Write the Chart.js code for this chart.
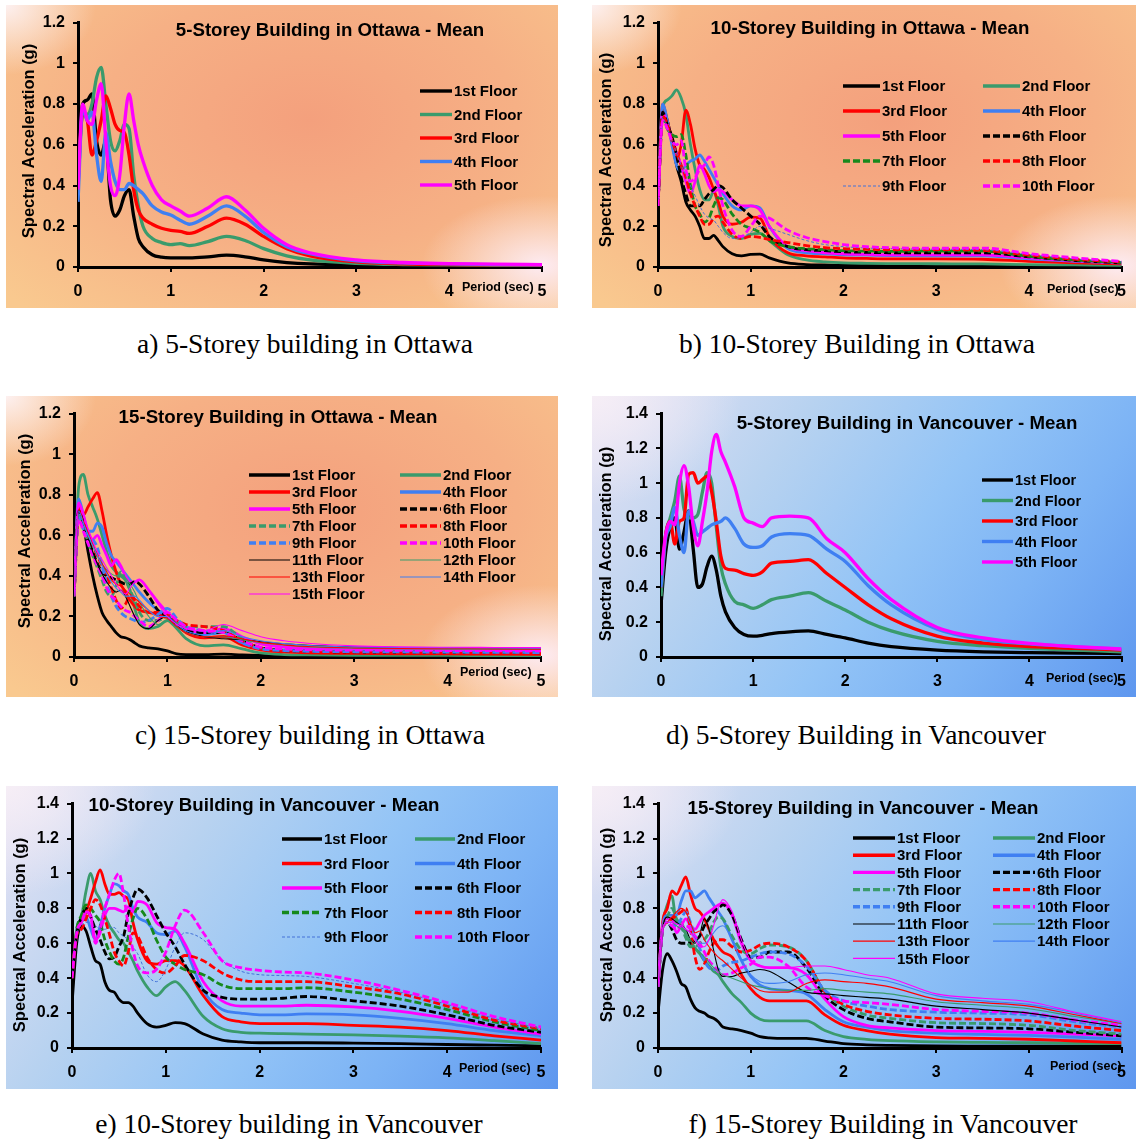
<!DOCTYPE html>
<html>
<head>
<meta charset="utf-8">
<script src="https://cdn.jsdelivr.net/npm/chart.js@4.4.1/dist/chart.umd.min.js"></script>
<style>
body { margin: 0; background: #fff; width: 1136px; height: 1141px; position: relative; overflow: hidden; }
.panel { position: absolute; }
.panel canvas { display: block; }
.ott {
  background:
    radial-gradient(ellipse 90px 70px at 0 0, #fdf0f0 0%, rgba(253,240,240,0) 100%),
    radial-gradient(ellipse 120px 70px at 97% 86%, #fdebf2 0%, rgba(253,235,242,0) 100%),
    radial-gradient(ellipse 75% 85% at 55% 38%, #f4a07d 0%, #f6b085 50%, #f9c98f 100%);
}
.van {
  background:
    radial-gradient(ellipse 150px 110px at 0 0, #f6eef6 0%, rgba(246,238,246,0) 100%),
    linear-gradient(125deg, #e6e2f3 0%, #b7d2f0 30%, #93c4f6 55%, #7cb3f5 75%, #5e97ef 100%);
}
.cap {
  position: absolute; white-space: nowrap; transform: translateX(-50%);
  font-family: "Liberation Serif", "Times New Roman", serif; font-size: 27.5px; line-height: 32px; color: #000;
}
</style>
</head>
<body>
<div class="panel ott" style="left:6px;top:5px;width:552px;height:303px"><canvas id="cA" width="552" height="303"></canvas></div>
<div class="panel ott" style="left:592px;top:5px;width:544px;height:303px"><canvas id="cB" width="544" height="303"></canvas></div>
<div class="panel ott" style="left:6px;top:396px;width:552px;height:301px"><canvas id="cC" width="552" height="301"></canvas></div>
<div class="panel van" style="left:592px;top:396px;width:544px;height:301px"><canvas id="cD" width="544" height="301"></canvas></div>
<div class="panel van" style="left:6px;top:786px;width:552px;height:303px"><canvas id="cE" width="552" height="303"></canvas></div>
<div class="panel van" style="left:592px;top:786px;width:544px;height:303px"><canvas id="cF" width="544" height="303"></canvas></div>

<div class="cap" style="left:305px;top:328px">a) 5-Storey building in Ottawa</div>
<div class="cap" style="left:857px;top:328px">b) 10-Storey Building in Ottawa</div>
<div class="cap" style="left:310px;top:719px">c) 15-Storey building in Ottawa</div>
<div class="cap" style="left:856px;top:719px">d) 5-Storey Building in Vancouver</div>
<div class="cap" style="left:289px;top:1108px">e) 10-Storey building in Vancouver</div>
<div class="cap" style="left:883px;top:1108px">f) 15-Storey Building in Vancouver</div>

<script>
// Period (sec) sample points shared by every curve
var periods = [0, 0.05, 0.1, 0.15, 0.2, 0.25, 0.3, 0.35, 0.4, 0.45, 0.5, 0.55, 0.6, 0.65, 0.7, 0.8, 0.9, 1.0, 1.1, 1.2, 1.4, 1.6, 1.8, 2.0, 2.25, 2.5, 3.0, 3.5, 4.0, 4.5, 5.0];

var floorLabels = ['1st Floor', '2nd Floor', '3rd Floor', '4th Floor', '5th Floor', '6th Floor', '7th Floor', '8th Floor',
  '9th Floor', '10th Floor', '11th Floor', '12th Floor', '13th Floor', '14th Floor', '15th Floor'];

var xTicks = [0, 1, 2, 3, 4, 5];

// a) 5-storey, Ottawa - one row per floor
var ottawa5 = [
  [0.5, 0.8, 0.82, 0.85, 0.62, 0.55, 0.62, 0.33, 0.25, 0.28, 0.35, 0.38, 0.25, 0.14, 0.1, 0.06, 0.048, 0.045, 0.045, 0.045, 0.05, 0.058, 0.05, 0.035, 0.022, 0.015, 0.01, 0.008, 0.007, 0.006, 0.005],
  [0.4, 0.75, 0.75, 0.8, 0.93, 0.98, 0.8, 0.62, 0.57, 0.62, 0.7, 0.68, 0.45, 0.3, 0.2, 0.14, 0.12, 0.11, 0.115, 0.105, 0.125, 0.15, 0.13, 0.09, 0.055, 0.035, 0.018, 0.012, 0.01, 0.008, 0.007],
  [0.45, 0.75, 0.72, 0.55, 0.62, 0.72, 0.84, 0.78, 0.7, 0.67, 0.66, 0.55, 0.38, 0.28, 0.24, 0.21, 0.19, 0.18, 0.175, 0.165, 0.2, 0.24, 0.21, 0.15, 0.09, 0.055, 0.025, 0.016, 0.012, 0.01, 0.008],
  [0.32, 0.78, 0.72, 0.76, 0.55, 0.42, 0.66, 0.52, 0.42, 0.38, 0.38, 0.41, 0.4, 0.38, 0.36, 0.3, 0.27, 0.255, 0.23, 0.21, 0.25, 0.3, 0.25, 0.17, 0.1, 0.065, 0.03, 0.02, 0.015, 0.012, 0.01],
  [0.38, 0.8, 0.72, 0.7, 0.82, 0.9, 0.62, 0.4, 0.35, 0.45, 0.7, 0.85, 0.72, 0.6, 0.52, 0.4, 0.33, 0.3, 0.275, 0.25, 0.29, 0.345, 0.28, 0.19, 0.11, 0.07, 0.035, 0.022, 0.017, 0.014, 0.012]
];

// b) 10-storey, Ottawa
var ottawa10 = [
  [0.3, 0.78, 0.72, 0.62, 0.5, 0.42, 0.32, 0.28, 0.25, 0.2, 0.14, 0.14, 0.155, 0.13, 0.1, 0.065, 0.055, 0.062, 0.063, 0.045, 0.02, 0.012, 0.01, 0.008, 0.008, 0.008, 0.007, 0.007, 0.006, 0.005, 0.005],
  [0.3, 0.78, 0.82, 0.84, 0.87, 0.83, 0.75, 0.6, 0.48, 0.38, 0.33, 0.33, 0.37, 0.3, 0.2, 0.15, 0.14, 0.16, 0.165, 0.13, 0.06, 0.035, 0.025, 0.02, 0.018, 0.017, 0.016, 0.015, 0.012, 0.01, 0.008],
  [0.3, 0.8, 0.72, 0.62, 0.53, 0.6, 0.77, 0.7, 0.58, 0.5, 0.48, 0.44, 0.38, 0.32, 0.25, 0.21, 0.22, 0.245, 0.24, 0.15, 0.07, 0.055, 0.05, 0.045, 0.042, 0.04, 0.04, 0.038, 0.028, 0.02, 0.015],
  [0.3, 0.8, 0.72, 0.6, 0.5, 0.47, 0.5, 0.52, 0.53, 0.55, 0.52, 0.48, 0.44, 0.4, 0.36, 0.3, 0.28, 0.3, 0.29, 0.2, 0.09, 0.07, 0.065, 0.06, 0.058, 0.056, 0.055, 0.055, 0.04, 0.028, 0.02],
  [0.3, 0.76, 0.7, 0.63, 0.56, 0.5, 0.42, 0.36, 0.42, 0.5, 0.46, 0.4, 0.37, 0.38, 0.37, 0.33, 0.3, 0.3, 0.28, 0.2, 0.1, 0.08, 0.07, 0.065, 0.062, 0.06, 0.06, 0.06, 0.045, 0.03, 0.02],
  [0.3, 0.76, 0.7, 0.64, 0.55, 0.44, 0.36, 0.3, 0.3, 0.3, 0.33, 0.36, 0.38, 0.4, 0.39, 0.33, 0.29, 0.25, 0.21, 0.15, 0.1, 0.085, 0.08, 0.075, 0.072, 0.07, 0.07, 0.07, 0.05, 0.032, 0.02],
  [0.3, 0.74, 0.68, 0.65, 0.64, 0.65, 0.55, 0.4, 0.3, 0.26, 0.22, 0.24, 0.3, 0.34, 0.33, 0.26, 0.21, 0.19, 0.17, 0.13, 0.1, 0.09, 0.085, 0.08, 0.078, 0.077, 0.078, 0.078, 0.052, 0.034, 0.022],
  [0.3, 0.74, 0.7, 0.62, 0.56, 0.5, 0.44, 0.36, 0.3, 0.25, 0.21, 0.21, 0.24, 0.25, 0.22, 0.16, 0.14, 0.15, 0.145, 0.135, 0.12, 0.105, 0.095, 0.09, 0.087, 0.085, 0.085, 0.082, 0.058, 0.038, 0.025],
  [0.3, 0.73, 0.68, 0.62, 0.56, 0.5, 0.45, 0.4, 0.35, 0.3, 0.26, 0.24, 0.23, 0.2, 0.17, 0.14, 0.145, 0.17, 0.2, 0.19, 0.16, 0.13, 0.11, 0.1, 0.093, 0.09, 0.087, 0.085, 0.062, 0.04, 0.025],
  [0.3, 0.72, 0.68, 0.62, 0.6, 0.62, 0.48, 0.42, 0.44, 0.48, 0.5, 0.54, 0.5, 0.4, 0.3, 0.18, 0.15, 0.2, 0.25, 0.24, 0.18, 0.145, 0.125, 0.11, 0.1, 0.095, 0.092, 0.093, 0.066, 0.045, 0.028]
];

// c) 15-storey, Ottawa
var ottawa15 = [
  [0.3, 0.72, 0.65, 0.52, 0.4, 0.3, 0.22, 0.18, 0.15, 0.12, 0.1, 0.095, 0.085, 0.07, 0.055, 0.045, 0.04, 0.03, 0.015, 0.012, 0.012, 0.014, 0.01, 0.008, 0.007, 0.006, 0.006, 0.006, 0.006, 0.005, 0.005],
  [0.3, 0.84, 0.9, 0.8, 0.74, 0.68, 0.6, 0.52, 0.45, 0.42, 0.4, 0.38, 0.33, 0.24, 0.17, 0.14, 0.15, 0.18, 0.14, 0.09, 0.055, 0.06, 0.04, 0.02, 0.012, 0.01, 0.008, 0.008, 0.008, 0.007, 0.007],
  [0.3, 0.74, 0.7, 0.74, 0.78, 0.81, 0.72, 0.6, 0.5, 0.42, 0.36, 0.32, 0.28, 0.25, 0.23, 0.22, 0.21, 0.2, 0.16, 0.12, 0.095, 0.1, 0.06, 0.035, 0.025, 0.02, 0.018, 0.016, 0.015, 0.014, 0.013],
  [0.3, 0.78, 0.7, 0.62, 0.62, 0.66, 0.64, 0.56, 0.5, 0.47, 0.44, 0.41, 0.38, 0.35, 0.32, 0.27, 0.23, 0.2, 0.16, 0.13, 0.11, 0.12, 0.07, 0.045, 0.035, 0.03, 0.027, 0.025, 0.024, 0.023, 0.022],
  [0.3, 0.76, 0.7, 0.62, 0.58, 0.6, 0.55, 0.5, 0.45, 0.48, 0.45, 0.4, 0.37, 0.37, 0.38, 0.33, 0.27, 0.22, 0.18, 0.14, 0.12, 0.14, 0.1, 0.065, 0.05, 0.042, 0.037, 0.035, 0.034, 0.033, 0.032],
  [0.3, 0.72, 0.66, 0.58, 0.52, 0.46, 0.42, 0.4, 0.39, 0.38, 0.37, 0.36, 0.36, 0.37, 0.36, 0.3, 0.23, 0.2, 0.16, 0.13, 0.12, 0.12, 0.08, 0.045, 0.032, 0.028, 0.025, 0.024, 0.023, 0.022, 0.021],
  [0.3, 0.7, 0.63, 0.57, 0.5, 0.44, 0.38, 0.32, 0.3, 0.35, 0.42, 0.38, 0.33, 0.28, 0.22, 0.18, 0.18, 0.2, 0.17, 0.15, 0.15, 0.15, 0.09, 0.045, 0.035, 0.03, 0.028, 0.026, 0.025, 0.024, 0.023],
  [0.3, 0.7, 0.65, 0.6, 0.55, 0.5, 0.45, 0.4, 0.34, 0.28, 0.24, 0.26, 0.3, 0.28, 0.25, 0.22, 0.22, 0.21, 0.18, 0.16, 0.15, 0.13, 0.08, 0.045, 0.032, 0.027, 0.024, 0.022, 0.021, 0.02, 0.019],
  [0.3, 0.7, 0.63, 0.6, 0.58, 0.54, 0.45, 0.36, 0.3, 0.25, 0.22, 0.2, 0.19, 0.18, 0.17, 0.18, 0.21, 0.24, 0.19, 0.15, 0.13, 0.12, 0.07, 0.04, 0.032, 0.028, 0.026, 0.025, 0.024, 0.023, 0.022],
  [0.3, 0.68, 0.62, 0.56, 0.5, 0.45, 0.4, 0.34, 0.3, 0.28, 0.25, 0.23, 0.22, 0.2, 0.18, 0.15, 0.18, 0.22, 0.18, 0.15, 0.13, 0.12, 0.08, 0.048, 0.04, 0.036, 0.034, 0.033, 0.032, 0.031, 0.03],
  [0.3, 0.72, 0.66, 0.6, 0.52, 0.46, 0.41, 0.37, 0.34, 0.32, 0.33, 0.3, 0.25, 0.2, 0.16, 0.14, 0.18, 0.2, 0.16, 0.13, 0.1, 0.09, 0.085, 0.075, 0.065, 0.058, 0.05, 0.047, 0.045, 0.044, 0.043],
  [0.3, 0.7, 0.66, 0.6, 0.55, 0.5, 0.46, 0.43, 0.41, 0.4, 0.41, 0.39, 0.36, 0.32, 0.27, 0.2, 0.16, 0.18, 0.15, 0.12, 0.1, 0.1, 0.085, 0.07, 0.058, 0.05, 0.043, 0.04, 0.039, 0.038, 0.037],
  [0.3, 0.73, 0.67, 0.62, 0.56, 0.5, 0.46, 0.42, 0.38, 0.36, 0.35, 0.33, 0.31, 0.29, 0.27, 0.23, 0.2, 0.19, 0.15, 0.12, 0.1, 0.105, 0.09, 0.072, 0.06, 0.052, 0.045, 0.042, 0.041, 0.04, 0.039],
  [0.3, 0.72, 0.66, 0.6, 0.55, 0.5, 0.45, 0.41, 0.37, 0.34, 0.32, 0.3, 0.3, 0.3, 0.28, 0.23, 0.2, 0.2, 0.16, 0.13, 0.11, 0.13, 0.1, 0.08, 0.066, 0.057, 0.05, 0.047, 0.046, 0.045, 0.044],
  [0.3, 0.75, 0.7, 0.63, 0.57, 0.52, 0.48, 0.44, 0.4, 0.36, 0.33, 0.31, 0.34, 0.37, 0.38, 0.33, 0.26, 0.2, 0.16, 0.14, 0.13, 0.16, 0.13, 0.1, 0.08, 0.068, 0.055, 0.05, 0.048, 0.047, 0.046]
];

// d) 5-storey, Vancouver
var vancouver5 = [
  [0.3, 0.6, 0.75, 0.8, 0.62, 0.72, 0.84, 0.62, 0.4, 0.42, 0.52, 0.58, 0.5, 0.35, 0.26, 0.17, 0.13, 0.12, 0.125, 0.135, 0.145, 0.15, 0.13, 0.11, 0.08, 0.06, 0.04, 0.03, 0.025, 0.022, 0.02],
  [0.35, 0.7, 0.8, 0.9, 1.04, 0.85, 0.8, 0.8, 0.82, 0.95, 1.06, 1.0, 0.75, 0.52, 0.42, 0.32, 0.3, 0.28, 0.3, 0.33, 0.35, 0.37, 0.32, 0.27, 0.2, 0.15, 0.09, 0.065, 0.05, 0.04, 0.03],
  [0.4, 0.7, 0.78, 0.65, 0.78, 0.8, 1.05, 1.06, 1.0, 1.02, 1.04, 0.95, 0.78, 0.58, 0.51, 0.5, 0.48, 0.47, 0.49, 0.54, 0.55, 0.56, 0.48, 0.4, 0.3, 0.22, 0.12, 0.08, 0.06, 0.05, 0.04],
  [0.4, 0.68, 0.75, 0.86, 0.7, 0.6, 0.84, 0.78, 0.7, 0.72, 0.74, 0.76, 0.77, 0.78, 0.8, 0.74, 0.65, 0.63, 0.64, 0.69, 0.71, 0.7, 0.62, 0.55, 0.41, 0.3, 0.16, 0.1, 0.075, 0.058, 0.045],
  [0.47, 0.7, 0.78, 0.76, 1.0, 1.1, 0.98, 0.75, 0.64, 0.78, 0.95, 1.18, 1.28, 1.18, 1.12, 0.98, 0.8, 0.77, 0.75, 0.8, 0.81, 0.8, 0.68, 0.6, 0.45, 0.33, 0.17, 0.11, 0.078, 0.06, 0.046]
];

// e) 10-storey, Vancouver
var vancouver10 = [
  [0.25, 0.6, 0.7, 0.67, 0.58, 0.5, 0.48, 0.38, 0.33, 0.32, 0.28, 0.26, 0.26, 0.24, 0.2, 0.14, 0.12, 0.13, 0.145, 0.14, 0.08, 0.045, 0.035, 0.03, 0.03, 0.03, 0.028, 0.025, 0.02, 0.016, 0.012],
  [0.4, 0.68, 0.75, 0.9, 1.0, 0.9, 0.85, 0.76, 0.7, 0.66, 0.62, 0.6, 0.55, 0.5, 0.44, 0.35, 0.3, 0.35, 0.38, 0.33, 0.18, 0.11, 0.09, 0.085, 0.082, 0.08, 0.075, 0.068, 0.058, 0.042, 0.025],
  [0.4, 0.65, 0.72, 0.78, 0.86, 0.95, 1.02, 0.94, 0.88, 0.88, 0.89, 0.87, 0.85, 0.72, 0.62, 0.5, 0.48, 0.5, 0.5, 0.47, 0.3, 0.18, 0.15, 0.14, 0.14, 0.14, 0.13, 0.12, 0.1, 0.07, 0.045],
  [0.4, 0.65, 0.72, 0.75, 0.68, 0.62, 0.7, 0.8, 0.88, 0.94, 0.93, 0.9, 0.88, 0.8, 0.75, 0.72, 0.66, 0.65, 0.67, 0.58, 0.33, 0.22, 0.2, 0.19, 0.19, 0.195, 0.19, 0.17, 0.14, 0.1, 0.07],
  [0.4, 0.66, 0.72, 0.78, 0.76, 0.62, 0.66, 0.76, 0.8, 0.8, 0.79, 0.78, 0.81, 0.78, 0.84, 0.82, 0.72, 0.69, 0.68, 0.6, 0.38, 0.27, 0.24, 0.24, 0.24, 0.245, 0.235, 0.21, 0.17, 0.12, 0.08],
  [0.38, 0.65, 0.75, 0.8, 0.75, 0.68, 0.62, 0.55, 0.51, 0.52, 0.58, 0.64, 0.77, 0.86, 0.91, 0.86, 0.76, 0.66, 0.58, 0.48, 0.33, 0.29, 0.28, 0.28, 0.285, 0.295, 0.27, 0.24, 0.19, 0.13, 0.09],
  [0.4, 0.68, 0.76, 0.82, 0.8, 0.76, 0.72, 0.62, 0.55, 0.5, 0.48, 0.52, 0.64, 0.74, 0.8, 0.74, 0.62, 0.52, 0.48, 0.45, 0.42, 0.36, 0.34, 0.34, 0.34, 0.345, 0.32, 0.28, 0.22, 0.15, 0.1],
  [0.4, 0.65, 0.68, 0.74, 0.8, 0.85, 0.82, 0.74, 0.65, 0.55, 0.5, 0.47, 0.55, 0.66, 0.64, 0.52, 0.45, 0.43, 0.47, 0.53, 0.5, 0.43, 0.39, 0.38, 0.38, 0.38, 0.35, 0.31, 0.24, 0.16, 0.11],
  [0.4, 0.66, 0.7, 0.72, 0.71, 0.7, 0.68, 0.68, 0.69, 0.69, 0.66, 0.64, 0.62, 0.58, 0.54, 0.42, 0.38, 0.45, 0.58, 0.66, 0.62, 0.5, 0.44, 0.42, 0.415, 0.41, 0.37, 0.32, 0.25, 0.17, 0.11],
  [0.4, 0.66, 0.72, 0.78, 0.75, 0.6, 0.68, 0.8, 0.88, 0.96, 1.0, 0.88, 0.7, 0.56, 0.47, 0.43, 0.45, 0.55, 0.7, 0.79, 0.66, 0.5, 0.46, 0.445, 0.435, 0.43, 0.39, 0.33, 0.26, 0.18, 0.12]
];

// f) 15-storey, Vancouver
var vancouver15 = [
  [0.2, 0.45, 0.54, 0.5, 0.44, 0.37, 0.35, 0.28, 0.23, 0.21, 0.2, 0.18, 0.17, 0.15, 0.12, 0.11, 0.1, 0.085, 0.065, 0.058, 0.055, 0.055, 0.04, 0.025, 0.018, 0.015, 0.012, 0.011, 0.01, 0.01, 0.01],
  [0.35, 0.7, 0.82, 0.87, 0.72, 0.72, 0.65, 0.6, 0.57, 0.54, 0.5, 0.47, 0.44, 0.42, 0.38, 0.31, 0.26, 0.2, 0.165, 0.155, 0.155, 0.155, 0.1, 0.065, 0.05, 0.042, 0.035, 0.032, 0.03, 0.027, 0.025],
  [0.35, 0.72, 0.8, 0.9, 0.88, 0.93, 0.98, 0.88, 0.8, 0.78, 0.74, 0.68, 0.62, 0.58, 0.55, 0.52, 0.42, 0.34, 0.29, 0.27, 0.27, 0.27, 0.19, 0.13, 0.1, 0.08, 0.06, 0.055, 0.05, 0.04, 0.03],
  [0.35, 0.7, 0.76, 0.76, 0.76, 0.84, 0.9, 0.9, 0.86, 0.88, 0.9, 0.86, 0.82, 0.78, 0.74, 0.62, 0.5, 0.41, 0.36, 0.34, 0.33, 0.31, 0.22, 0.15, 0.12, 0.1, 0.085, 0.078, 0.072, 0.062, 0.05],
  [0.35, 0.7, 0.74, 0.74, 0.66, 0.7, 0.74, 0.7, 0.68, 0.72, 0.76, 0.78, 0.8, 0.82, 0.83, 0.76, 0.6, 0.5, 0.47, 0.46, 0.46, 0.42, 0.28, 0.18, 0.13, 0.115, 0.1, 0.095, 0.09, 0.08, 0.07],
  [0.35, 0.68, 0.72, 0.68, 0.62, 0.6, 0.6, 0.6, 0.62, 0.64, 0.7, 0.74, 0.78, 0.8, 0.82, 0.76, 0.62, 0.52, 0.52, 0.55, 0.55, 0.46, 0.3, 0.22, 0.17, 0.15, 0.12, 0.115, 0.11, 0.09, 0.07],
  [0.35, 0.68, 0.75, 0.8, 0.74, 0.7, 0.63, 0.58, 0.58, 0.6, 0.62, 0.66, 0.72, 0.75, 0.74, 0.64, 0.56, 0.54, 0.57, 0.59, 0.58, 0.5, 0.32, 0.24, 0.19, 0.17, 0.145, 0.14, 0.13, 0.1, 0.08],
  [0.35, 0.68, 0.72, 0.74, 0.76, 0.78, 0.8, 0.68, 0.52, 0.45, 0.48, 0.55, 0.6, 0.62, 0.62, 0.58, 0.55, 0.56, 0.59, 0.6, 0.58, 0.5, 0.32, 0.25, 0.21, 0.19, 0.17, 0.165, 0.155, 0.125, 0.1],
  [0.35, 0.68, 0.72, 0.7, 0.7, 0.74, 0.78, 0.72, 0.64, 0.57, 0.5, 0.46, 0.45, 0.45, 0.47, 0.49, 0.5, 0.52, 0.54, 0.55, 0.54, 0.47, 0.33, 0.27, 0.24, 0.22, 0.205, 0.2, 0.19, 0.15, 0.12],
  [0.35, 0.68, 0.72, 0.7, 0.68, 0.7, 0.7, 0.68, 0.64, 0.6, 0.55, 0.5, 0.47, 0.44, 0.42, 0.43, 0.46, 0.48, 0.52, 0.52, 0.47, 0.35, 0.3, 0.27, 0.26, 0.25, 0.22, 0.21, 0.2, 0.16, 0.13],
  [0.35, 0.68, 0.75, 0.74, 0.72, 0.7, 0.68, 0.62, 0.6, 0.65, 0.74, 0.68, 0.56, 0.45, 0.41, 0.41, 0.43, 0.44, 0.45, 0.44, 0.38, 0.32, 0.31, 0.3, 0.29, 0.28, 0.24, 0.22, 0.2, 0.16, 0.12],
  [0.35, 0.68, 0.72, 0.72, 0.7, 0.68, 0.65, 0.62, 0.58, 0.55, 0.52, 0.49, 0.46, 0.44, 0.42, 0.4, 0.38, 0.36, 0.35, 0.34, 0.33, 0.33, 0.34, 0.33, 0.32, 0.31, 0.265, 0.245, 0.225, 0.18, 0.14],
  [0.35, 0.68, 0.72, 0.75, 0.78, 0.8, 0.78, 0.72, 0.66, 0.67, 0.62, 0.58, 0.55, 0.52, 0.5, 0.45, 0.4, 0.36, 0.33, 0.32, 0.32, 0.37, 0.39, 0.38, 0.37, 0.35, 0.28, 0.26, 0.24, 0.19, 0.14],
  [0.35, 0.68, 0.72, 0.72, 0.71, 0.7, 0.68, 0.66, 0.63, 0.6, 0.6, 0.62, 0.66, 0.69, 0.7, 0.62, 0.5, 0.42, 0.38, 0.37, 0.38, 0.42, 0.43, 0.42, 0.4, 0.38, 0.3, 0.27, 0.25, 0.2, 0.145],
  [0.35, 0.68, 0.72, 0.72, 0.71, 0.7, 0.68, 0.66, 0.62, 0.58, 0.58, 0.62, 0.7, 0.8, 0.85, 0.78, 0.62, 0.5, 0.47, 0.46, 0.46, 0.47, 0.47, 0.45, 0.42, 0.4, 0.31, 0.285, 0.265, 0.205, 0.15]
];

// line styles per floor
var BLACK = '#000000', GREEN = '#3a9b6c', RED = '#ff0000', BLUE = '#3f7ff2', MAGENTA = '#ff00ff';
var DKGREEN = '#16891c', THINBLUE = '#4472d8';
var DASH = [7, 3], THINDASH = [3, 2];

function solid(c, w) { return { c: c, w: w, d: [] }; }
function dashed(c, w, d) { return { c: c, w: w, d: d || DASH }; }

var styles5 = [solid(BLACK, 3.3), solid(GREEN, 3.3), solid(RED, 3.3), solid(BLUE, 3.3), solid(MAGENTA, 3.3)];
var styles10 = [solid(BLACK, 2.8), solid(GREEN, 2.8), solid(RED, 2.8), solid(BLUE, 2.8), solid(MAGENTA, 2.8),
  dashed(BLACK, 2.8), dashed(DKGREEN, 2.8), dashed(RED, 2.8), dashed(THINBLUE, 1, THINDASH), dashed(MAGENTA, 2.8)];
var styles15 = [solid(BLACK, 2.8), solid(GREEN, 2.8), solid(RED, 2.8), solid(BLUE, 2.8), solid(MAGENTA, 2.8),
  dashed(BLACK, 2.8), dashed(GREEN, 2.8), dashed(RED, 2.8), dashed(BLUE, 2.8), dashed(MAGENTA, 2.8),
  solid(BLACK, 1.1), solid(GREEN, 1.1), solid(RED, 1.1), solid(BLUE, 1.1), solid(MAGENTA, 1.1)];

var FONT = '"Liberation Sans", Arial, sans-serif';

// panel geometry, in page pixels
var panels = [
  { id: 'cA', rows: ottawa5, st: styles5, title: '5-Storey Building in Ottawa - Mean',
    L: 6, T: 5, W: 552, H: 303, x0: 78, x5: 542, yTop: 15, yBot: 267, yMax: 1.2,
    tx: 330, ty: 31, cols: 1, lx: [420], ll: 32, ly: 91, dy: 23.5, lf: 15, px: 462, py: 288, yx: 29, yy: 141 },
  { id: 'cB', rows: ottawa10, st: styles10, title: '10-Storey Building in Ottawa - Mean',
    L: 592, T: 5, W: 544, H: 303, x0: 658, x5: 1126, yTop: 15, yBot: 267, yMax: 1.2,
    tx: 870, ty: 29, cols: 2, lx: [843, 983], ll: 37, ly: 86, dy: 25, lf: 15, px: 1047, py: 290, yx: 606, yy: 150 },
  { id: 'cC', rows: ottawa15, st: styles15, title: '15-Storey Building in Ottawa - Mean',
    L: 6, T: 396, W: 552, H: 301, x0: 74, x5: 541, yTop: 405, yBot: 657, yMax: 1.2,
    tx: 278, ty: 418, cols: 2, lx: [249, 400], ll: 41, ly: 475, dy: 17, lf: 15, px: 460, py: 673, yx: 25, yy: 531 },
  { id: 'cD', rows: vancouver5, st: styles5, title: '5-Storey Building in Vancouver - Mean',
    L: 592, T: 396, W: 544, H: 301, x0: 661, x5: 1130, yTop: 405, yBot: 657, yMax: 1.4,
    tx: 907, ty: 424, cols: 1, lx: [982], ll: 31, ly: 480, dy: 20.5, lf: 14.5, px: 1046, py: 679, yx: 606, yy: 544 },
  { id: 'cE', rows: vancouver10, st: styles10, title: '10-Storey Building in Vancouver - Mean',
    L: 6, T: 786, W: 552, H: 303, x0: 72, x5: 541, yTop: 796, yBot: 1048, yMax: 1.4,
    tx: 264, ty: 806, cols: 2, lx: [282, 415], ll: 40, ly: 839, dy: 24.5, lf: 15, px: 459, py: 1069, yx: 20, yy: 935 },
  { id: 'cF', rows: vancouver15, st: styles15, title: '15-Storey Building in Vancouver - Mean',
    L: 592, T: 786, W: 544, H: 303, x0: 658, x5: 1128, yTop: 796, yBot: 1048, yMax: 1.4,
    tx: 863, ty: 809, cols: 2, lx: [853, 993], ll: 42, ly: 838, dy: 17.2, lf: 15, px: 1050, py: 1067, yx: 607, yy: 925 }
];

// title, in-plot legend, "Period (sec)" and y title
function makeDecor(p) {
  return {
    id: 'panelDecor',
    afterDraw: function (chart) {
      var ctx = chart.ctx;
      ctx.save();
      ctx.fillStyle = '#000';
      ctx.textBaseline = 'middle';

      ctx.font = 'bold 18.7px ' + FONT;
      ctx.textAlign = 'center';
      ctx.fillText(p.title, p.tx - p.L, p.ty - p.T);

      ctx.font = 'bold ' + p.lf + 'px ' + FONT;
      ctx.textAlign = 'left';
      chart.data.datasets.forEach(function (ds, i) {
        var col = i % p.cols, row = Math.floor(i / p.cols);
        var x = p.lx[col] - p.L, y = p.ly + row * p.dy - p.T;
        ctx.strokeStyle = ds.borderColor;
        ctx.lineWidth = ds.borderWidth > 2 ? 3.4 : 1.2;
        ctx.setLineDash(ds.borderDash);
        ctx.beginPath();
        ctx.moveTo(x, y);
        ctx.lineTo(x + p.ll, y);
        ctx.stroke();
        ctx.setLineDash([]);
        ctx.fillText(ds.label, x + p.ll + 2, y + 1);
      });

      ctx.font = 'bold 12.5px ' + FONT;
      ctx.fillText('Period (sec)', p.px - p.L, p.py - p.T);

      ctx.font = 'bold 16.5px ' + FONT;
      ctx.textAlign = 'center';
      ctx.translate(p.yx - p.L, p.yy - p.T);
      ctx.rotate(-Math.PI / 2);
      ctx.fillText('Spectral Acceleration (g)', 0, 0);
      ctx.restore();
    }
  };
}

panels.forEach(function (p) {
  var datasets = p.rows.map(function (row, i) {
    return {
      label: floorLabels[i],
      data: periods.map(function (t, k) { return { x: t, y: row[k] }; }),
      borderColor: p.st[i].c,
      borderWidth: p.st[i].w,
      borderDash: p.st[i].d,
      order: p.rows.length - i, // later floors on top
      fill: false
    };
  });

  var axisGrid = { drawOnChartArea: false, color: '#000', lineWidth: 2, tickLength: 5 };
  var tickFont = { family: FONT, size: 16, weight: 'bold' };

  new Chart(document.getElementById(p.id), {
    type: 'line',
    data: { datasets: datasets },
    options: {
      responsive: false,
      animation: false,
      devicePixelRatio: 1,
      layout: { padding: { left: 0, top: p.yTop - p.T, right: p.L + p.W - p.x5, bottom: 0 } },
      elements: {
        point: { radius: 0, hoverRadius: 0 },
        line: { cubicInterpolationMode: 'monotone', borderJoinStyle: 'round' }
      },
      plugins: { legend: { display: false }, tooltip: { enabled: false } },
      scales: {
        x: {
          type: 'linear', min: 0, max: 5,
          afterFit: function (s) { s.height = p.T + p.H - p.yBot; },
          afterBuildTicks: function (s) { s.ticks = xTicks.map(function (v) { return { value: v }; }); },
          border: { color: '#000', width: 3 },
          grid: axisGrid,
          ticks: { color: '#000', font: tickFont, padding: 10, maxRotation: 0, autoSkip: false }
        },
        y: {
          min: 0, max: p.yMax,
          afterFit: function (s) { s.width = p.x0 - p.L; },
          border: { color: '#000', width: 3 },
          grid: axisGrid,
          ticks: {
            stepSize: 0.2, color: '#000', font: tickFont, padding: 8,
            callback: function (v) { return +v.toFixed(1); }
          }
        }
      }
    },
    plugins: [makeDecor(p)]
  });
});
</script>
</body>
</html>
